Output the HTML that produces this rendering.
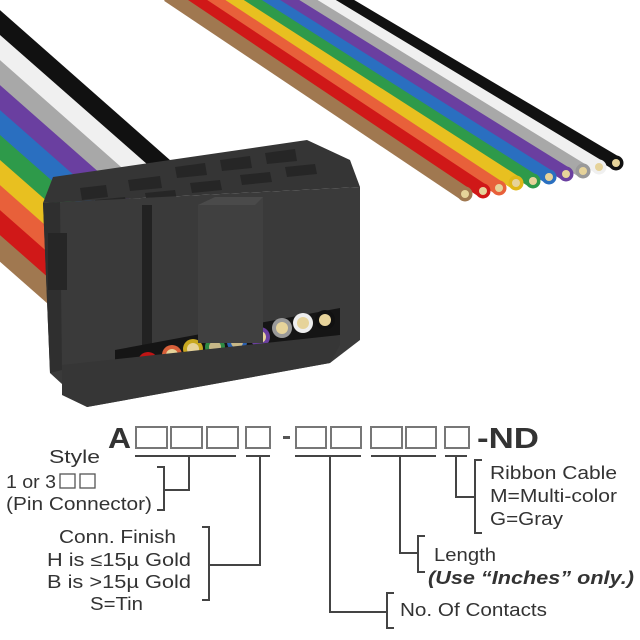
<!DOCTYPE html>
<html><head><meta charset="utf-8"><style>
html,body{margin:0;padding:0;background:#fff;}
svg{display:block;}
text{font-family:"Liberation Sans",Arial,sans-serif;fill:#333;}
</style></head><body>
<svg width="640" height="640" viewBox="0 0 640 640" xmlns="http://www.w3.org/2000/svg">
<!-- left cable -->
<g stroke-width="20" stroke-linecap="butt">
<line x1="-30" y1="-3" x2="165" y2="169" stroke="#111"/>
<line x1="-30" y1="22" x2="150" y2="180" stroke="#f0f0f0"/>
<line x1="-30" y1="47" x2="140" y2="197" stroke="#a8a8a8"/>
<line x1="-30" y1="72" x2="130" y2="213" stroke="#6a3fa0"/>
<line x1="-30" y1="97" x2="120" y2="229" stroke="#2a6fc0"/>
<line x1="-30" y1="122" x2="110" y2="245" stroke="#2e9a4a"/>
<line x1="-30" y1="147" x2="100" y2="261" stroke="#e8c020"/>
<line x1="-30" y1="172" x2="90" y2="278" stroke="#e8603a"/>
<line x1="-30" y1="197" x2="80" y2="294" stroke="#d01818"/>
<line x1="-30" y1="222" x2="70" y2="310" stroke="#a07850"/>
</g>
<!-- right cable -->
<g stroke-width="14" stroke-linecap="butt">
<line x1="332" y1="-5" x2="616" y2="163" stroke="#111"/>
<line x1="314" y1="-5" x2="599" y2="167" stroke="#f0f0f0"/>
<line x1="296" y1="-5" x2="583" y2="171" stroke="#a8a8a8"/>
<line x1="278" y1="-5" x2="566" y2="174" stroke="#6a3fa0"/>
<line x1="259" y1="-5" x2="549" y2="177" stroke="#2a6fc0"/>
<line x1="241" y1="-5" x2="533" y2="181" stroke="#2e9a4a"/>
<line x1="223" y1="-5" x2="516" y2="183" stroke="#e8c020"/>
<line x1="205" y1="-5" x2="499" y2="188" stroke="#e8603a"/>
<line x1="187" y1="-5" x2="483" y2="191" stroke="#d01818"/>
<line x1="168" y1="-5" x2="465" y2="194" stroke="#a07850"/>
</g>
<g>
<circle cx="616" cy="163" r="7.5" fill="#111"/><circle cx="616" cy="163" r="4" fill="#e6d39a"/>
<circle cx="599" cy="167" r="7.5" fill="#f0f0f0"/><circle cx="599" cy="167" r="4" fill="#e6d39a"/>
<circle cx="583" cy="171" r="7.5" fill="#999"/><circle cx="583" cy="171" r="4" fill="#e6d39a"/>
<circle cx="566" cy="174" r="7.5" fill="#6a3fa0"/><circle cx="566" cy="174" r="4" fill="#e6d39a"/>
<circle cx="549" cy="177" r="7.5" fill="#2a6fc0"/><circle cx="549" cy="177" r="4" fill="#e6d39a"/>
<circle cx="533" cy="181" r="7.5" fill="#2e9a4a"/><circle cx="533" cy="181" r="4" fill="#e6d39a"/>
<circle cx="516" cy="183" r="7.5" fill="#e0b818"/><circle cx="516" cy="183" r="4" fill="#e6d39a"/>
<circle cx="499" cy="188" r="7.5" fill="#e8603a"/><circle cx="499" cy="188" r="4" fill="#e6d39a"/>
<circle cx="483" cy="191" r="7.5" fill="#d01818"/><circle cx="483" cy="191" r="4" fill="#e6d39a"/>
<circle cx="465" cy="194" r="7.5" fill="#a07850"/><circle cx="465" cy="194" r="4" fill="#e6d39a"/>
</g>
<!-- connector -->
<polygon points="53,177 307,140 350,160 360,187 43,203" fill="#353535"/>
<g fill="#262626">
<polygon points="80,188 106,185 108,197 82,200"/>
<polygon points="128,180 160,176 162,188 130,191"/>
<polygon points="175,167 205,163 207,175 177,178"/>
<polygon points="220,160 250,156 252,168 222,171"/>
<polygon points="265,153 295,149 297,161 267,164"/>
<polygon points="95,200 125,197 127,207 97,210"/>
<polygon points="145,193 175,190 177,200 147,203"/>
<polygon points="190,183 220,180 222,190 192,193"/>
<polygon points="240,175 270,172 272,182 242,185"/>
<polygon points="285,167 315,164 317,174 287,177"/>
</g>
<polygon points="43,203 360,187 360,340 330,363 87,407 50,373" fill="#3a3a3a"/>
<polygon points="43,203 60,202 62,370 50,373" fill="#2f2f2f"/>
<rect x="48" y="233" width="19" height="57" fill="#262626"/>
<rect x="142" y="205" width="10" height="148" fill="#222"/>
<polygon points="115,350 340,308 340,335 115,377" fill="#151515"/>
<g>
<circle cx="127" cy="370" r="10" fill="#7a5c40"/><circle cx="127" cy="370" r="6" fill="#e6d39a"/>
<circle cx="148" cy="362" r="10" fill="#c01515"/><circle cx="148" cy="362" r="6" fill="#e6d39a"/>
<circle cx="172" cy="355" r="10" fill="#d8603a"/><circle cx="172" cy="355" r="6" fill="#e6d39a"/>
<circle cx="193" cy="349" r="10" fill="#c8a820"/><circle cx="193" cy="349" r="6" fill="#e6d39a"/>
<circle cx="215" cy="347" r="10" fill="#2e8a44"/><circle cx="215" cy="347" r="6" fill="#c8b888"/>
<circle cx="237" cy="342" r="10" fill="#2a60b0"/><circle cx="237" cy="342" r="6" fill="#c8b888"/>
<circle cx="260" cy="337" r="10" fill="#6a3fa0"/><circle cx="260" cy="337" r="6" fill="#e6d39a"/>
<circle cx="282" cy="328" r="10" fill="#999"/><circle cx="282" cy="328" r="6" fill="#e6d39a"/>
<circle cx="303" cy="323" r="10" fill="#eee"/><circle cx="303" cy="323" r="6" fill="#e6d39a"/>
<circle cx="325" cy="320" r="10" fill="#111"/><circle cx="325" cy="320" r="6" fill="#e6d39a"/>
</g>
<polygon points="62,365 340,335 340,345 330,363 87,407 62,395" fill="#363636"/>
<polygon points="198,205 215,197 263,197 263,343 198,343" fill="#404040"/>
<polygon points="198,205 215,197 263,197 255,205" fill="#4a4a4a"/>
<!-- code -->
<text x="108" y="448" font-size="29" font-weight="bold" fill="#333" textLength="23" lengthAdjust="spacingAndGlyphs">A</text>
<g fill="none" stroke="#777" stroke-width="2">
<rect x="136" y="427" width="31" height="21"/>
<rect x="171" y="427" width="31" height="21"/>
<rect x="207" y="427" width="31" height="21"/>
<rect x="246" y="427" width="24" height="21"/>
<rect x="296" y="427" width="30" height="21"/>
<rect x="331" y="427" width="30" height="21"/>
<rect x="371" y="427" width="31" height="21"/>
<rect x="406" y="427" width="30" height="21"/>
<rect x="445" y="427" width="24" height="21"/>
</g>
<rect x="283" y="436" width="7" height="3" fill="#555"/>
<text x="477" y="448" font-size="29" font-weight="bold" fill="#333" textLength="62" lengthAdjust="spacingAndGlyphs">-ND</text>
<g stroke="#444" stroke-width="2" fill="none">
<line x1="135" y1="456" x2="236" y2="456"/>
<line x1="246" y1="456" x2="270" y2="456"/>
<line x1="295" y1="456" x2="361" y2="456"/>
<line x1="371" y1="456" x2="436" y2="456"/>
<line x1="445" y1="456" x2="467" y2="456"/>
<polyline points="189,456 189,490 164,490"/>
<polyline points="157,467 164,467 164,510 157,510"/>
<polyline points="260,456 260,565 209,565"/>
<polyline points="202,527 209,527 209,600 202,600"/>
<polyline points="330,456 330,612 387,612"/>
<polyline points="394,593 387,593 387,628 394,628"/>
<polyline points="400,456 400,553 418,553"/>
<polyline points="425,536 418,536 418,572 425,572"/>
<polyline points="456,456 456,497 475,497"/>
<polyline points="482,460 475,460 475,533 482,533"/>
</g>
<g font-size="18" fill="#333">
<text x="49" y="463" textLength="51" lengthAdjust="spacingAndGlyphs">Style</text>
<text x="6" y="488" textLength="50" lengthAdjust="spacingAndGlyphs">1 or 3</text>
<rect x="60" y="474" width="15" height="14" fill="none" stroke="#555" stroke-width="1.3"/>
<rect x="80" y="474" width="15" height="14" fill="none" stroke="#555" stroke-width="1.3"/>
<text x="6" y="510" textLength="146" lengthAdjust="spacingAndGlyphs">(Pin Connector)</text>
<text x="59" y="543" textLength="117" lengthAdjust="spacingAndGlyphs">Conn. Finish</text>
<text x="47" y="566" textLength="144" lengthAdjust="spacingAndGlyphs">H is ≤15µ Gold</text>
<text x="47" y="588" textLength="144" lengthAdjust="spacingAndGlyphs">B is &gt;15µ Gold</text>
<text x="90" y="610" textLength="53" lengthAdjust="spacingAndGlyphs">S=Tin</text>
<text x="400" y="616" textLength="147" lengthAdjust="spacingAndGlyphs">No. Of Contacts</text>
<text x="434" y="561" textLength="62" lengthAdjust="spacingAndGlyphs">Length</text>
<text x="428" y="584" font-weight="bold" font-style="italic" textLength="206" lengthAdjust="spacingAndGlyphs">(Use “Inches” only.)</text>
<text x="490" y="479" textLength="127" lengthAdjust="spacingAndGlyphs">Ribbon Cable</text>
<text x="490" y="502" textLength="127" lengthAdjust="spacingAndGlyphs">M=Multi-color</text>
<text x="490" y="525" textLength="73" lengthAdjust="spacingAndGlyphs">G=Gray</text>
</g>
</svg>
</body></html>
